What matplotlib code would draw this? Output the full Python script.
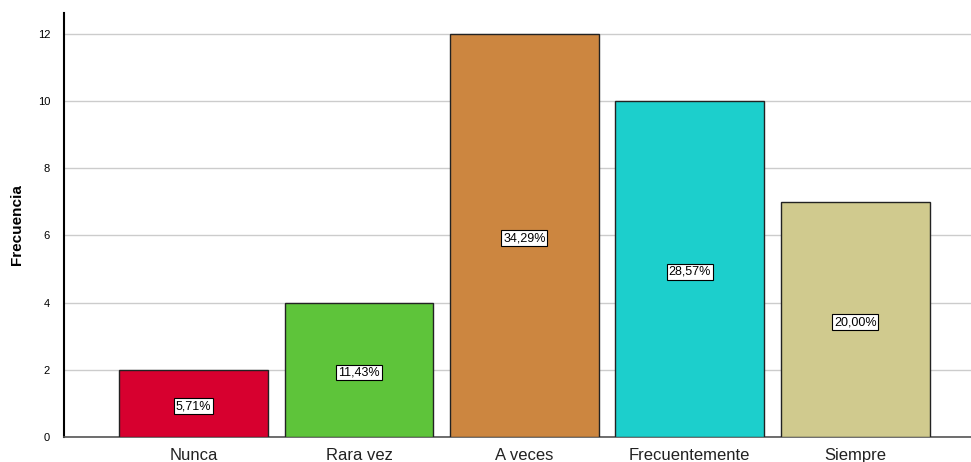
import matplotlib
matplotlib.use("Agg")
import matplotlib.pyplot as plt

categories = ["Nunca", "Rara vez", "A veces", "Frecuentemente", "Siempre"]
counts = [2, 4, 12, 10, 7]
pct_labels = ["5,71%", "11,43%", "34,29%", "28,57%", "20,00%"]
colors = ["#D7002F", "#5EC43A", "#CC8640", "#1CCFCC", "#D0CA8E"]
yticks = [0, 2, 4, 6, 8, 10, 12]

plt.rcParams["font.family"] = ["Liberation Sans", "DejaVu Sans"]

fig = plt.figure(figsize=(9.71, 4.62), dpi=100)
ax = fig.add_axes([64/971, 1 - 437/462, 1 - 64/971, (437 - 13)/462])

x = list(range(len(categories)))
ax.bar(x, counts, width=0.9, color=colors, edgecolor="#222222", linewidth=1, zorder=3)

for xi, c, lab in zip(x, counts, pct_labels):
    ax.text(xi, c / 2 - 0.08, lab, ha="center", va="center", fontsize=9, zorder=4,
            bbox=dict(boxstyle="square,pad=0.15", facecolor="white", edgecolor="black", linewidth=0.8))

ax.set_xlim(-0.783, 4.70)
ax.set_ylim(0, 12.62)
ax.set_yticks(yticks)
ax.set_yticklabels([str(t) for t in yticks], fontsize=8)
ax.set_xticks(x)
ax.set_xticklabels(categories, fontsize=12, color="#222222")
ax.tick_params(axis="y", length=0, pad=10)
ax.tick_params(axis="x", length=0, pad=8)
ax.yaxis.grid(True, color="#CCCCCC", linewidth=1, zorder=0)
ax.set_axisbelow(True)

for s in ["top", "right"]:
    ax.spines[s].set_visible(False)
ax.spines["left"].set_color("black")
ax.spines["left"].set_linewidth(1.5)
ax.spines["bottom"].set_color("#555555")
ax.spines["bottom"].set_linewidth(1.2)

ax.set_ylabel("Frecuencia", fontsize=11, fontweight="bold", labelpad=10)

fig.savefig("out.png", dpi=100)
